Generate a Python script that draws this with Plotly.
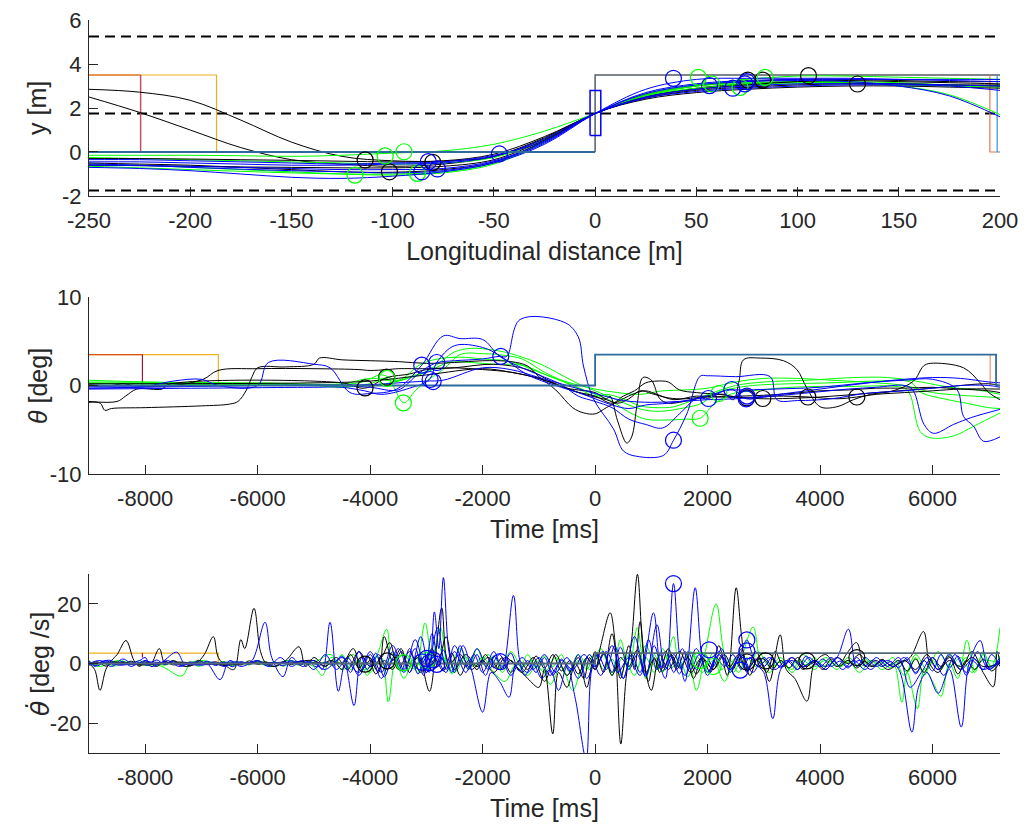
import plotly.graph_objects as go

# ---------------- Panel 1 data: lateral position vs longitudinal distance ----------------
dist_grid = [-250, -225, -200, -175, -150, -125, -100, -75, -50, -25, 0, 25, 50, 75, 100, 125, 150, 175, 200]

y_black_1 = [2.85, 2.72, 2.35, 1.45, 0.45, -0.2, -0.4, -0.4, -0.1, 0.7, 1.75, 2.6, 3.0, 3.2, 3.3, 3.3, 3.25, 3.2, 3.2]
y_black_2 = [2.5, 1.8, 1.0, 0.2, -0.35, -0.55, -0.65, -0.55, -0.2, 0.65, 1.75, 2.5, 2.9, 3.1, 3.2, 3.15, 3.1, 3.05, 3.05]
y_black_3 = [-0.3, -0.3, -0.32, -0.35, -0.38, -0.42, -0.45, -0.42, -0.2, 0.6, 1.75, 2.5, 2.85, 3.05, 3.2, 3.25, 3.2, 3.15, 3.1]
y_black_4 = [-0.5, -0.55, -0.6, -0.7, -0.8, -0.9, -0.92, -0.8, -0.45, 0.5, 1.75, 2.4, 2.7, 2.85, 2.95, 3.0, 3.0, 2.95, 2.9]
y_black_5 = [-0.6, -0.62, -0.65, -0.68, -0.7, -0.72, -0.72, -0.65, -0.35, 0.55, 1.75, 2.45, 2.8, 2.95, 3.05, 3.1, 3.1, 3.05, 3.0]
y_green_1 = [-0.15, -0.15, -0.15, -0.17, -0.2, -0.15, -0.05, 0.05, 0.35, 0.95, 1.75, 2.55, 3.0, 3.3, 3.45, 3.45, 3.4, 3.35, 3.3]
y_green_2 = [-0.55, -0.6, -0.7, -0.8, -0.9, -1.0, -1.05, -0.95, -0.55, 0.45, 1.75, 2.65, 3.05, 3.15, 3.2, 3.2, 3.15, 3.05, 3.0]
y_green_3 = [-0.65, -0.72, -0.8, -0.88, -0.95, -1.0, -1.0, -0.9, -0.5, 0.5, 1.75, 2.6, 3.0, 3.1, 3.15, 3.15, 3.0, 2.6, 1.7]
y_green_4 = [-0.25, -0.3, -0.35, -0.4, -0.45, -0.5, -0.55, -0.5, -0.25, 0.55, 1.75, 2.55, 2.9, 3.05, 3.1, 3.1, 3.05, 3.0, 2.95]
y_blue_1 = [-0.7, -0.75, -0.85, -1.0, -1.15, -1.2, -1.1, -0.9, -0.5, 0.35, 1.75, 2.85, 3.3, 3.35, 3.35, 3.35, 3.3, 3.25, 3.2]
y_blue_2 = [-0.35, -0.35, -0.4, -0.45, -0.5, -0.55, -0.5, -0.45, -0.15, 0.5, 1.75, 2.5, 2.85, 3.0, 3.1, 3.1, 3.1, 3.05, 3.0]
y_blue_3 = [-0.55, -0.6, -0.7, -0.78, -0.85, -0.9, -0.95, -0.85, -0.45, 0.4, 1.75, 2.65, 3.05, 3.2, 3.25, 3.2, 3.0, 2.55, 1.6]
y_blue_4 = [-0.45, -0.45, -0.5, -0.55, -0.6, -0.6, -0.55, -0.5, -0.2, 0.6, 1.75, 2.45, 2.75, 2.9, 3.0, 3.05, 3.05, 3.0, 2.8]
y_blue_5 = [-0.6, -0.62, -0.65, -0.7, -0.75, -0.8, -0.8, -0.75, -0.4, 0.45, 1.75, 2.7, 3.1, 3.25, 3.3, 3.3, 3.3, 3.3, 3.3]

lane_lines = [5.25, 1.75, -1.75]
dist_range = [-250, 200]
dist_ticks = [-250, -200, -150, -100, -50, 0, 50, 100, 150, 200]
dist_ticktext = ["-250", "-200", "-150", "-100", "-50", "0", "50", "100", "150", "200"]
y1_ticks = [-2, 0, 2, 4, 6]
y1_ticktext = ["-2", "0", "2", "4", "6"]

# event circles (x, y)
p1_circ_black = [(-113.6, -0.36), (-101.6, -0.9), (-80.2, -0.47), (75.4, 3.27), (82.8, 3.27), (105.4, 3.47), (129.6, 3.09)]
p1_circ_green = [(-118.6, -1.05), (-103.7, -0.18), (-94.4, 0.01), (-87.8, -0.97), (51.0, 3.39), (57.5, 3.1), (71.6, 2.94), (84.0, 3.39)]
p1_circ_blue = [(-85.6, -0.9), (-82.4, -0.44), (-77.9, -0.77), (-47.3, -0.09), (38.7, 3.35), (56.5, 3.02), (68.0, 2.9), (74.9, 3.2), (74.0, 3.1)]

# reference markers (steps) panel 1
p1_step_gray = [(0, 0), (0, 3.5), (200, 3.5)]
p1_step_blue = [(-250, 0), (0, 0)]
p1_step_blue_r = [(198.6, 3.5), (198.6, 0), (200, 0)]
p1_step_orange = [(195, 3.5), (195, 0), (198.6, 0)]
p1_step_orange_l = [(-250, 3.5), (-224.5, 3.5)]
p1_step_yellow = [(-250, 3.5), (-187, 3.5), (-187, 0)]
p1_step_red = [(-224.5, 3.5), (-224.5, 0)]
p1_box = [(-2.5, 0.75), (2.8, 0.75), (2.8, 2.8), (-2.5, 2.8), (-2.5, 0.75)]

# ---------------- Panel 2 data: heading angle vs time ----------------
th_black_1 = [(-9000, 0.1), (-8600, 0.0), (-8400, 0.2), (-8200, 0.0), (-7500, 0.0), (-6970, 0.7), (-6706, 1.7), (-6000, 1.9),
              (-5000, 1.9), (-4200, 1.8), (-4000, 1.7), (-3700, 1.8), (-3500, 1.9), (-3000, 1.9), (-2500, 2.0), (-2000, 1.8),
              (-1500, 1.5), (-1000, 0.8), (-500, -0.3), (-200, -1.0), (0, -1.3), (200, -1.6), (400, -2.0), (600, -1.5),
              (800, -0.6), (1000, -0.9), (1300, -1.4), (1600, -1.5), (2000, -1.2), (2300, -1.0), (2460, -1.6), (2560, 0.5),
              (2638, 2.9), (2935, 3.1), (3350, 2.8), (3588, 1.8), (3766, -0.3), (4002, -2.4), (4300, -2.4), (4595, -1.6),
              (4900, -1.0), (5300, -0.6), (5662, 0.5), (5840, 2.2), (5959, 2.5), (6552, 2.0), (6848, 0.3), (7000, -0.8), (7200, -1.6)]
th_black_2 = [(-9000, -1.9), (-8800, -2.0), (-8720, -2.8), (-8600, -2.6), (-8000, -2.5), (-7000, -2.3), (-6500, -2.1),
              (-6350, -1.8), (-6200, -0.5), (-6100, 1.0), (-6000, 2.0), (-5500, 2.1), (-5000, 2.4), (-4900, 3.1), (-4500, 2.9),
              (-4000, 2.8), (-3500, 2.7), (-3000, 2.5), (-2500, 2.6), (-2000, 2.8), (-1500, 2.7), (-1200, 2.2), (-1000, 1.0),
              (-700, -0.5), (-400, -2.5), (-200, -3.1), (0, -3.2), (200, -2.5), (350, -2.0), (500, -1.5), (700, -0.9),
              (900, -0.6), (1100, -1.0), (1400, -1.6), (1800, -1.2), (2200, -1.3), (2600, -1.2), (3000, -1.1), (3500, -0.9),
              (4000, -0.6), (4500, -0.5), (5000, -0.3), (5500, -0.3), (6000, -0.2), (6500, -0.4), (7000, -0.6), (7200, -0.8)]
th_black_3 = [(-9000, -1.8), (-8500, -1.8), (-8350, -1.2), (-8150, -0.4), (-7700, -0.4), (-7600, 0.1), (-4500, 0.3),
              (-4100, -0.3), (-3700, 0.9), (-3300, 1.3), (-3000, 1.8), (-2500, 2.0), (-1800, 2.4), (-1200, 1.8), (-800, 0.5),
              (-400, -0.6), (0, -1.2), (300, -2.0), (500, -1.2), (700, -0.6), (900, 0.3), (1100, 0.5), (1300, 0.4),
              (1500, -0.5), (1800, -0.8), (2200, -1.0), (2700, -1.4), (3200, -1.2), (3800, -1.3), (4300, -1.5), (4650, -1.3),
              (5000, -1.0), (5500, -0.8), (6000, -0.6), (6500, -0.4), (7200, -0.4)]
th_black_4 = [(-9000, 0.2), (-5000, 0.3), (-4000, 0.5), (-3000, 1.2), (-2000, 1.9), (-1500, 1.5), (-1000, 0.8), (-500, -0.3),
              (0, -0.8), (200, -1.5), (267, -1.2), (400, -4.0), (563, -6.5), (650, -5.8), (750, -2.0), (850, 0.9), (1000, 0.6),
              (1150, -1.5), (1300, -2.0), (1500, -1.9), (2000, -1.3), (2700, -1.4), (3000, -1.5), (4000, -1.3), (5000, -0.8),
              (6000, -0.3), (7000, 0.2), (7200, 0.0)]
th_green_1 = [(-9000, 0.6), (-8000, 0.4), (-6000, 0.2), (-4500, 0.2), (-4000, 0.8), (-3500, 0.5), (-3300, 1.0), (-3000, 1.6),
              (-2700, 2.9), (-2500, 3.8), (-2200, 4.2), (-1800, 4.0), (-1500, 3.6), (-1000, 2.5), (-600, 1.2), (-300, 0.2),
              (0, -0.6), (300, -1.4), (600, -2.2), (900, -2.8), (1200, -2.9), (1600, -2.5), (1900, -2.0), (2100, -1.0),
              (2400, -0.4), (2800, 0.0), (3500, 0.2), (4200, 0.3), (5000, 0.5), (5600, 0.4), (5800, -0.8), (6200, -1.5),
              (6600, -2.0), (7000, -2.5), (7200, -2.6)]
th_green_2 = [(-9000, 0.3), (-7000, 0.1), (-5000, 0.0), (-4500, -0.2), (-4000, 0.2), (-3700, 0.8), (-3400, -1.96), (-3200, -0.6),
              (-3000, 0.5), (-2700, 1.8), (-2400, 3.5), (-2000, 3.6), (-1600, 3.4), (-1300, 3.0), (-900, 1.5), (-500, 0.3),
              (-200, -0.5), (0, -1.0), (300, -1.8), (600, -3.0), (900, -3.8), (1300, -3.9), (1600, -3.8), (1868, -3.7),
              (2100, -2.2), (2400, -1.0), (2800, -0.6), (3500, -0.2), (4500, -0.1), (5500, -0.3), (5600, -1.0), (5781, -5.2),
              (5959, -5.9), (6374, -5.7), (6730, -4.6), (7200, -3.1)]
th_green_3 = [(-9000, 0.4), (-6000, 0.3), (-4200, 0.3), (-3800, 1.2), (-3500, 0.6), (-3100, 2.4), (-2800, 3.0), (-2400, 3.2),
              (-2000, 3.0), (-1500, 2.7), (-1000, 1.5), (-500, 0.4), (0, -0.4), (400, -0.8), (800, -1.0), (1200, -0.6),
              (1600, -0.5), (2000, -0.3), (2500, 0.4), (3000, 0.8), (3600, 0.8), (4200, 0.6), (5000, 0.3), (5500, 0.0),
              (6000, -0.8), (6500, -1.1), (7000, -1.3), (7200, -1.4)]
th_green_4 = [(-9000, 0.2), (-6000, 0.1), (-4000, 0.0), (-3500, 0.5), (-3000, 1.5), (-2600, 2.6), (-2200, 2.6), (-1800, 2.4),
              (-1300, 2.3), (-800, 1.0), (-400, 0.0), (0, -1.2), (200, -1.0), (500, -1.5), (800, -2.3), (1100, -2.5),
              (1400, -2.4), (1800, -1.5), (2100, -0.8), (2500, 0.0), (3000, 0.4), (3800, 0.6), (4600, 0.9), (5200, 0.9),
              (5800, 0.4), (6300, -0.2), (6800, -0.5), (7200, -1.0)]
th_blue_1 = [(-9000, -0.3), (-8000, -0.2), (-6000, 0.0), (-4500, 0.0), (-4000, -0.2), (-3500, -0.5), (-3200, 1.0), (-3000, 2.0),
             (-2800, 2.6), (-2500, 2.8), (-2000, 3.0), (-1700, 3.3), (-1571, 3.3), (-1334, 7.46), (-534, 7.1), (-300, 5.5),
             (-207, 2.2), (-30, -1.5), (326, -4.9), (504, -7.4), (741, -8.0), (1215, -7.9), (1393, -6.2), (1631, -3.2),
             (1868, 1.05), (2000, 1.1), (2500, 1.0), (3113, 1.0), (3232, -1.6), (3600, -1.7), (4200, -1.5), (4800, -0.9),
             (5500, -0.6), (6000, -0.3), (6500, 0.0), (7000, 0.0), (7200, -0.2)]
th_blue_2 = [(-9000, -0.3), (-8000, -0.1), (-7500, 0.5), (-7000, 0.7), (-6700, 0.0), (-6000, 0.0), (-5810, 2.6), (-5000, 2.4),
             (-4714, 2.0), (-4358, -0.8), (-4000, -0.9), (-3527, -0.4), (-3083, 2.3), (-2700, 5.6), (-2400, 5.3), (-2000, 5.2),
             (-1700, 3.3), (-1300, 2.0), (-1000, 1.2), (-600, 0.1), (-300, -1.2), (0, -1.8), (300, -2.5), (600, -3.8),
             (900, -4.4), (1200, -4.8), (1500, -3.2), (1800, -1.5), (2016, -1.47), (2300, -0.6), (2700, -0.5), (3200, -0.4),
             (4000, -0.2), (4800, 0.3), (5500, 0.6), (6000, 0.7), (6433, -0.45), (6552, -3.5), (6730, -4.6), (6907, -6.3),
             (7200, -5.8)]
th_blue_3 = [(-9000, -0.4), (-7000, -0.3), (-5000, -0.2), (-4500, -0.2), (-4100, -0.6), (-3800, -1.0), (-3300, -0.3),
             (-2947, 0.68), (-2816, 2.6), (-2500, 4.5), (-2000, 4.3), (-1678, 3.3), (-1200, 1.2), (-700, 0.0), (-300, -0.8),
             (0, -1.5), (300, -2.2), (600, -2.6), (900, -2.2), (1300, -2.0), (1700, -1.6), (2100, -1.0), (2431, -0.45),
             (2686, -1.5), (3000, -1.3), (3500, -1.0), (4000, -0.7), (4500, -0.4), (5000, -0.2), (5500, 0.0), (5650, -0.5),
             (5850, -4.4), (6018, -5.4), (6374, -4.4), (6700, -3.6), (7200, -2.7)]
th_blue_4 = [(-9000, -0.1), (-6000, 0.0), (-4000, 0.1), (-3500, 0.3), (-3000, 0.5), (-2700, 0.6), (-2000, 2.0), (-1500, 1.8),
             (-1000, 0.9), (-500, 0.0), (0, -0.9), (500, -1.7), (1000, -1.9), (1500, -1.8), (2000, -1.6), (2500, -1.5),
             (3000, -1.2), (4000, -0.4), (5000, 0.4), (6000, 0.9), (6500, 0.8), (7000, 0.4), (7200, 0.3)]

p2_circ_black = [(-4091, -0.27), (-3706, 0.94), (2698, -1.4), (2983, -1.47), (3783, -1.3), (4654, -1.3)]
p2_circ_green = [(-3700, 0.8), (-3410, -1.96), (1868, -3.7), (2200, -0.9)]
p2_circ_blue = [(-3083, 2.3), (-2935, 0.68), (-2880, 0.45), (-2816, 2.6), (-1678, 3.3), (1393, -6.18), (2016, -1.47),
                (2431, -0.45), (2686, -1.5), (2700, -1.2)]

time_range = [-9000, 7200]
time_ticks = [-8000, -6000, -4000, -2000, 0, 2000, 4000, 6000]
time_ticktext = ["-8000", "-6000", "-4000", "-2000", "0", "2000", "4000", "6000"]
y2_ticks = [-10, 0, 10]
y2_ticktext = ["-10", "0", "10"]
p2_step_main = [(-9000, 0), (0, 0), (0, 3.5), (7130, 3.5), (7130, 0), (7200, 0)]
p2_step_orange_r = [(7025, 3.5), (7025, 0)]
p2_step_yellow = [(-9000, 3.5), (-6700, 3.5), (-6700, 0)]
p2_step_orange_l = [(-9000, 3.5), (-8050, 3.5)]
p2_step_red = [(-8050, 3.5), (-8050, 0)]

# ---------------- Panel 3 data: heading rate vs time ----------------
rate_black_1 = [(-9000, 0), (-8900, -2), (-8805, -9), (-8700, -2), (-8600, 1), (-8500, 3), (-8342, 7.7), (-8200, 1), (-8100, -1),
                (-8000, 1), (-7900, 0), (-7750, 5), (-7650, 0), (-7500, 1), (-7300, -1), (-7100, 0), (-6950, 3), (-6789, 9),
                (-6700, 2), (-6550, -1), (-6420, -2), (-6300, 8), (-6230, 5), (-6066, 18.5), (-5950, 4), (-5850, 0), (-5700, -1),
                (-5500, 1), (-5265, 5.6), (-5150, -1), (-5000, 2), (-4850, 0), (-4700, 1), (-4500, 0), (-4300, 5), (-4150, -2),
                (-4000, 1), (-3850, -3), (-3750, 9), (-3600, 1), (-3450, 5), (-3300, -3), (-3150, 3), (-2947, -9.3), (-2850, 1),
                (-2727, 18.6), (-2600, 0), (-2400, 3), (-2200, -2), (-2000, 1), (-1800, -3), (-1600, 2), (-1400, -1), (-1200, -5),
                (-1000, -8), (-900, -2), (-753, -23.6), (-650, -3), (-500, -8), (-350, 0), (-200, -5), (-100, 2), (0, -2),
                (100, 6), (267, 17), (350, 8), (457, -27), (550, -5), (650, 8), (753, 29.9), (850, 5), (950, -6), (1050, 2),
                (1150, -3), (1300, 5), (1450, -2), (1600, 4), (1750, -5), (1900, 2), (2050, -3), (2200, 6), (2350, -4),
                (2508, 25.4), (2600, 10), (2700, -3), (2850, 4), (3000, -1), (3100, -6), (3290, 9.6), (3400, -2), (3550, -5),
                (3766, -12.6), (3900, 0), (4100, 3), (4300, -1), (4500, 4), (4650, 7), (4800, -1), (5000, 1), (5200, -2),
                (5400, 0), (5600, 2), (5840, 10.7), (5950, 0), (6100, -3), (6300, 2), (6500, -2), (6700, 4), (6900, -3),
                (7080, -7.8), (7150, 4), (7200, 0)]
rate_black_2 = [(-9000, 0), (-8500, 0.5), (-8000, -0.5), (-7500, 0.5), (-7000, 0), (-6500, -0.5), (-6000, 0.5), (-5500, 0),
                (-5000, 1), (-4800, -1), (-4600, 2), (-4400, -2), (-4200, 4), (-4000, -1), (-3800, 2), (-3650, 7), (-3500, -2),
                (-3300, 4), (-3100, -3), (-2900, 5), (-2800, -1), (-2650, 9), (-2500, -2), (-2300, 3), (-2100, -1), (-1900, 2),
                (-1700, -2), (-1500, 1), (-1300, -3), (-1100, 2), (-900, -6), (-700, 3), (-500, -4), (-300, 2), (-150, -8),
                (0, 4), (150, -3), (300, 10), (450, -5), (600, 6), (700, -2), (800, 14), (900, -3), (1000, -9), (1150, 3),
                (1300, -2), (1500, 4), (1700, -3), (1900, 2), (2100, -2), (2300, 3), (2450, -2), (2600, 5), (2750, -4),
                (2900, 2), (3050, -3), (3200, 4), (3350, -1), (3500, 2), (3700, -2), (3900, 1), (4100, -2), (4300, 2),
                (4500, 0), (4700, 3), (4900, -1), (5100, 1), (5300, -1), (5500, 1), (5700, -2), (5900, 3), (6100, -2),
                (6300, 1), (6500, -1), (6700, 2), (6900, -1), (7200, 0)]
rate_green_1 = [(-9000, 0), (-8800, -1), (-8500, 1), (-8200, 0), (-8000, 0.5), (-7700, -1), (-7352, -4.2), (-7200, 0), (-7000, 1),
                (-6700, 0), (-6400, 0.5), (-6000, 0), (-5700, -1), (-5500, 1), (-5200, 0), (-5000, -1), (-4850, -4), (-4700, 2),
                (-4500, 0), (-4300, 3), (-4100, -2), (-3900, 2), (-3705, 11.5), (-3600, 0), (-3400, 3), (-3200, -2),
                (-3024, 13.6), (-2900, 2), (-2750, 12), (-2600, -2), (-2400, 5), (-2200, -1), (-2000, 2), (-1800, -3),
                (-1600, -6), (-1400, 0), (-1200, -4), (-1000, 1), (-800, -7), (-600, -1), (-400, -9), (-250, -2), (-100, 3),
                (0, -1), (150, 3), (300, -4), (450, 8), (600, -2), (750, 12), (900, -5), (1050, 3), (1200, -3), (1393, 9),
                (1500, -1), (1650, 2), (1800, -9), (1950, 3), (2152, 20), (2300, 3), (2450, -3), (2600, 2), (2810, 12.2),
                (2950, 0), (3100, -3), (3300, 1), (3500, -2), (3700, 3), (3900, -1), (4100, 1), (4300, -2), (4500, 2),
                (4700, -1), (4900, 1), (5100, -2), (5300, 0), (5455, -13), (5550, -3), (5733, -15.1), (5850, -2), (6000, -6),
                (6150, -11), (6300, 0), (6450, -5), (6611, 7.8), (6750, -2), (6900, 3), (7050, -1), (7200, 12)]
rate_green_2 = [(-9000, -0.5), (-8500, 0.5), (-8000, -0.5), (-7500, 0), (-7000, 0.5), (-6500, -0.5), (-6000, 0.5), (-5500, 0),
                (-5000, 0.5), (-4700, 3), (-4500, -2), (-4200, 1), (-4000, -3), (-3800, 2), (-3676, -12.9), (-3550, 1),
                (-3400, -5), (-3200, 2), (-3000, -2), (-2800, 6), (-2650, 0), (-2500, -3), (-2300, 2), (-2100, -1), (-1900, 3),
                (-1700, -2), (-1500, 4), (-1300, -1), (-1100, 1), (-900, -3), (-700, 2), (-500, -4), (-300, 3), (-100, -2),
                (100, 5), (300, -3), (500, 2), (700, -4), (900, 6), (1100, -2), (1300, 3), (1500, -1), (1700, 4), (1900, -3),
                (2100, 1), (2300, -6), (2500, 2), (2700, -2), (2900, 4), (3100, -1), (3300, 2), (3500, -3), (3700, 1),
                (3900, -2), (4100, 2), (4300, -1), (4500, 1), (4700, -3), (4900, 1), (5100, -1), (5300, 2), (5500, -4),
                (5700, 3), (5900, -2), (6100, 4), (6300, -1), (6500, 2), (6700, -3), (6900, 1), (7200, 0)]
rate_blue_1 = [(-9000, 1), (-8900, -1), (-8800, 0.5), (-8600, 1), (-8500, -0.5), (-8300, 0), (-8100, 1), (-8000, 2), (-7900, -1),
               (-7700, 0.5), (-7440, 3.8), (-7300, 0), (-7100, 0.5), (-6900, 0), (-6670, -5.4), (-6500, 1), (-6300, -1),
               (-6100, 1), (-5870, 13.8), (-5750, 2), (-5550, -4.4), (-5400, 2), (-5200, -1), (-5000, 1), (-4850, -2),
               (-4714, 13.8), (-4566, -9.3), (-4450, 0), (-4287, -14.1), (-4150, 2), (-4000, -1), (-3850, 3), (-3700, -2),
               (-3500, 5), (-3300, -3), (-3100, 9), (-2950, -3), (-2858, 17.3), (-2780, 5), (-2698, 28.8), (-2600, 4),
               (-2500, -3), (-2350, 6), (-2200, -2), (-2000, -16.3), (-1850, -3), (-1700, -6), (-1530, -11.3), (-1400, 0),
               (-1200, -3), (-1000, 2), (-800, -4), (-600, 1), (-400, -2), (-200, 3), (0, -1), (200, 4), (400, -3), (600, 2),
               (800, -4), (1037, 17), (1150, 0), (1250, -5), (1393, 26.8), (1500, 3), (1600, -6), (1779, 25.4), (1900, 2),
               (2000, -4), (2200, 3), (2400, -2), (2600, 4), (2698, 7.9), (2850, 0), (3000, -3), (3160, -18.5), (3300, -2),
               (3500, 2), (3700, -1), (3900, 1), (4100, -1), (4300, 2), (4505, 11.5), (4650, -1), (4800, 2), (5000, -1),
               (5200, 1), (5400, -2), (5633, -23), (5750, -8), (5900, -3), (6100, -10), (6300, -2), (6510, -21.3), (6650, 0),
               (6848, 7.7), (7000, -2), (7200, 2)]
rate_blue_2 = [(-9000, -0.5), (-8700, 0.5), (-8400, -0.5), (-8000, 0.5), (-7500, 0), (-7000, -0.5), (-6500, 0.5), (-6000, 0),
               (-5500, 0.5), (-5000, 0), (-4800, -2), (-4500, 2), (-4200, -3), (-4000, 4), (-3800, -3), (-3600, 6), (-3400, -2),
               (-3200, 5), (-3050, -4), (-2900, 10), (-2800, 2), (-2650, -3), (-2500, 6), (-2300, -1), (-2150, 3), (-2000, -3),
               (-1800, 4), (-1650, -2), (-1453, 22.8), (-1350, 2), (-1250, -4), (-1100, 0), (-950, -5), (-800, -2), (-650, -9),
               (-500, -1), (-350, -12), (-160, -32), (-60, -2), (50, 3), (200, -2), (350, 6), (500, -5), (650, 3), (800, -3),
               (950, 8), (1100, -2), (1250, 4), (1400, -3), (1550, 5), (1700, -2), (1850, 3), (2000, -3), (2150, 2), (2300, -1),
               (2450, 3), (2600, -2), (2750, 2), (2900, -1), (3100, 2), (3300, -1), (3500, 1), (3700, -1), (3900, 1), (4100, -2),
               (4300, 2), (4500, -1), (4700, 1), (4900, -2), (5100, 1), (5300, -1), (5500, 2), (5700, -3), (5900, 2), (6100, -2),
               (6300, 3), (6500, -2), (6700, 1), (6900, -2), (7200, 1)]
rate_blue_3 = [(-9000, 0), (-8800, 1), (-8600, -1), (-8400, 1.5), (-8200, -0.5), (-8000, 1), (-7800, -0.5), (-7600, 1), (-7400, -1),
               (-7200, 0.5), (-7000, -0.5), (-6800, 0.5), (-6600, -1), (-6400, 0.5), (-6200, 0), (-6000, 1), (-5800, -1),
               (-5600, 2), (-5400, -1), (-5200, 1), (-5000, -2), (-4800, 3), (-4600, -2), (-4400, 2), (-4200, -4), (-4000, 3),
               (-3800, -5), (-3600, 4), (-3400, -3), (-3200, 8), (-3000, -3), (-2800, 12), (-2650, -2), (-2500, 4), (-2300, -3),
               (-2100, 5), (-1900, -2), (-1700, 3), (-1500, -4), (-1300, 2), (-1100, -2), (-900, 3), (-700, -3), (-500, 2),
               (-300, -5), (-100, 3), (100, -4), (300, 6), (500, -5), (700, 9), (900, -4), (1100, 13), (1250, -2), (1400, 3),
               (1600, -4), (1800, 5), (2000, -3), (2200, 4), (2400, -2), (2600, 3), (2800, -3), (3000, 2), (3200, -2), (3400, 1),
               (3600, -2), (3800, 2), (4000, -1), (4200, 2), (4400, -2), (4600, 1), (4800, -2), (5000, 2), (5200, -1), (5400, 2),
               (5600, -8), (5800, -3), (6000, 2), (6200, -4), (6400, 3), (6600, -3), (6800, 4), (7000, -2), (7200, 1)]

# dense low-level jitter traces sampled every 150 ms from -9000 to 7200 ms
jitter_time = list(range(-9000, 7201, 150))
jitter_blue = [0.5, -0.8, 1.0, -0.5, 0.7, -1.0, 0.4, -0.6, 1.2, -0.4, 0.6, -0.9, 0.3, -0.5, 0.8, -0.7, 0.5, -1.1, 0.6, -0.3,
               0.9, -0.6, 0.4, -0.8, 1.0, -0.5, 0.7, -1.2, 0.5, -0.4,
               2.5, -3.0, 4.0, -2.0, 3.5, -4.5, 1.5, -2.5, 5.0, -3.5, 2.0, -1.5, 4.5, -3.0, 6.0, -2.0, 3.0, -4.0, 2.5, -1.0,
               3.5, -2.5, 1.0, -3.0,
               2.0, -4.0, 1.5, -2.5, 3.0, -5.0,
               1.0, 4.0, -3.0, 5.5, -2.0, 3.0, -4.5, 6.0, -1.5, 2.5, -3.5, 4.0, -2.0, 3.0, -1.0, 5.0, -3.0, 2.0, -2.5, 1.5,
               -1.0, 2.0, -1.5, 1.0, -2.0, 2.5, -0.5, 1.5, -1.0, 0.8, -1.5, 2.0, -0.7, 1.2, -1.0, 0.6, -1.3,
               2.0, -3.5, 1.0, -2.5, 3.0, -1.5, 2.5, -4.0, 1.5, -2.0, 3.0, -1.0]
jitter_black = [-0.4, 0.6, -0.9, 0.5, -0.3, 0.8, -0.6, 0.4, -1.0, 0.7, -0.5, 0.3, -0.8, 1.1, -0.4, 0.6, -0.7, 0.2, -0.5, 0.9,
                -0.3, 0.5, -1.0, 0.6, -0.4, 0.8, -0.2, 0.5, -0.9, 0.6,
                -2.0, 3.0, -1.5, 2.5, -3.5, 1.0, -2.0, 4.0, -1.0, 2.0, -3.0, 1.5, -2.5, 3.5, -4.0, 1.0, -2.0, 3.0, -1.5, 2.0,
                -3.0, 1.0, -2.0, 2.5,
                -1.5, 3.0, -2.5, 1.0, -3.5, 2.0,
                -2.0, 3.5, -4.0, 2.0, -1.0, 4.5, -3.0, 1.5, -2.5, 3.0, -1.5, 2.0, -3.5, 1.0, -2.0, 2.5, -1.0, 3.0, -2.0, 1.0,
                1.5, -2.0, 1.0, -1.5, 2.0, -1.0, 0.5, -2.0, 1.5, -0.8, 1.0, -1.5, 0.6, -1.0, 1.4, -0.5, 1.0,
                -2.5, 1.5, -3.0, 2.0, -1.0, 2.5, -3.5, 1.0, -2.0, 1.5, -2.5, 0.5]
jitter_green = [0.8, -0.5, 0.3, -0.9, 0.6, -0.4, 1.0, -0.7, 0.2, -0.6, 0.9, -0.3, 0.5, -1.0, 0.4, -0.2, 0.7, -0.8, 0.3, -0.5,
                1.1, -0.4, 0.6, -0.9, 0.2, -0.6, 0.8, -0.3, 0.5, -0.7,
                3.0, -2.0, 1.0, -4.0, 2.5, -1.5, 3.5, -2.5, 1.0, -3.0, 4.0, -1.0, 2.0, -3.5, 1.5, -2.0, 5.0, -1.0, 2.5, -3.0,
                1.0, -2.0, 3.0, -1.5,
                2.5, -1.0, 3.0, -3.0, 1.0, -2.0,
                3.0, -2.0, 1.5, -4.0, 3.0, -1.0, 2.0, -3.0, 5.0, -1.5, 1.0, -4.5, 2.5, -1.0, 3.5, -2.0, 1.0, -3.0, 2.0, -1.0,
                2.0, -1.0, 0.5, -1.5, 1.0, -0.5, 2.0, -1.0, 0.8, -1.2, 0.5, -0.8, 1.5, -1.0, 0.5, -1.5, 1.0,
                -3.0, 2.0, -4.0, 1.0, -2.0, 3.5, -1.0, 2.0, -3.0, 4.0, -1.5, 2.5]

p3_circ_black = [(-4091, -0.2), (-3700, 0.9), (2698, 0.5), (3032, 0.9), (3766, 0.9), (4654, 2.0)]
p3_circ_green = [(-3400, 0.3), (-3000, 1.0), (1868, 1.0), (2100, -1.0)]
p3_circ_blue = [(-3083, 0.5), (-2994, 1.7), (-2947, 0.3), (-2880, 1.2), (-2816, -0.3), (-1690, 0.6), (1393, 26.8),
                (2028, 4.6), (2580, -2.2), (2698, 7.9), (2698, 4.2)]

y3_ticks = [-20, 0, 20]
y3_ticktext = ["-20", "0", "20"]
p3_step_main = [(-9000, 0), (0, 0), (0, 3.5), (7200, 3.5)]
p3_step_yellow = [(-9000, 3.5), (-6700, 3.5), (-6700, 0)]
p3_step_red = [(-8050, 3.5), (-8050, 2.0)]

# ---------------- Styling ----------------
BLACK, GREEN, BLUE = "#000000", "#00FF00", "#0000FF"
AX = "#262626"
FONT = "Liberation Sans, Arial, Helvetica, sans-serif"

fig = go.Figure()


def add_line(pts_x, pts_y, color, axis, width=1.0, shape="linear", dash=None):
    xa, ya = axis
    fig.add_trace(go.Scatter(x=pts_x, y=pts_y, mode="lines", xaxis=xa, yaxis=ya,
                             line=dict(color=color, width=width, shape=shape, dash=dash),
                             hoverinfo="skip", showlegend=False))


def add_pairs(pairs, color, axis, width=1.0, shape="linear"):
    add_line([p[0] for p in pairs], [p[1] for p in pairs], color, axis, width, shape)


def add_circles(pairs, color, axis, size=16):
    xa, ya = axis
    fig.add_trace(go.Scatter(x=[p[0] for p in pairs], y=[p[1] for p in pairs], mode="markers", xaxis=xa, yaxis=ya,
                             marker=dict(symbol="circle-open", size=size, color=color, line=dict(width=1.2, color=color)),
                             hoverinfo="skip", showlegend=False))


A1, A2, A3 = ("x", "y"), ("x2", "y2"), ("x3", "y3")

# Panel 1
for lv in lane_lines:
    add_line(dist_range, [lv, lv], BLACK, A1, width=2, dash="10px,6px")
add_pairs(p1_step_yellow, "#EDB120", A1, 1.2)
add_pairs(p1_step_orange_l, "#D95319", A1, 1.2)
add_pairs(p1_step_red, "#C2506A", A1, 1.5)
add_pairs(p1_step_gray, "#555E66", A1, 1.5)
add_pairs(p1_step_orange, "#E8764A", A1, 1.2)
add_pairs(p1_step_blue_r, "#3A8FD0", A1, 1.2)
traj = [(y_black_1, BLACK), (y_black_2, BLACK), (y_green_1, GREEN), (y_green_2, GREEN), (y_green_3, GREEN),
        (y_green_4, GREEN), (y_black_3, BLACK), (y_black_4, BLACK), (y_black_5, BLACK),
        (y_blue_1, BLUE), (y_blue_2, BLUE), (y_blue_3, BLUE), (y_blue_4, BLUE), (y_blue_5, BLUE)]
for vals, col in traj:
    add_line(dist_grid, vals, col, A1, 1.0, "spline")
add_pairs(p1_step_blue, "#2E6A9C", A1, 1.8)
add_pairs(p1_box, BLUE, A1, 1.5)
add_circles(p1_circ_black, BLACK, A1)
add_circles(p1_circ_green, GREEN, A1)
add_circles(p1_circ_blue, BLUE, A1)

# Panel 2
add_pairs(p2_step_yellow, "#EDB120", A2, 1.2)
add_pairs(p2_step_orange_l, "#D95319", A2, 1.2)
add_pairs(p2_step_red, "#A2142F", A2, 1.2)
add_pairs(p2_step_orange_r, "#E8976E", A2, 1.2)
for pairs, col in [(th_green_1, GREEN), (th_green_2, GREEN), (th_green_3, GREEN), (th_green_4, GREEN),
                   (th_black_1, BLACK), (th_black_2, BLACK), (th_black_3, BLACK), (th_black_4, BLACK),
                   (th_blue_1, BLUE), (th_blue_2, BLUE), (th_blue_3, BLUE), (th_blue_4, BLUE)]:
    add_pairs(pairs, col, A2, 1.0, "spline")
add_pairs(p2_step_main, "#2E6A9C", A2, 1.8)
add_circles(p2_circ_black, BLACK, A2)
add_circles(p2_circ_green, GREEN, A2)
add_circles(p2_circ_blue, BLUE, A2)

# Panel 3
add_pairs(p3_step_yellow, "#EDB120", A3, 1.2)
add_pairs(p3_step_red, "#A2142F", A3, 1.2)
add_line(jitter_time, jitter_green, GREEN, A3, 1.0, "spline")
for pairs, col in [(rate_green_1, GREEN), (rate_green_2, GREEN), (rate_black_1, BLACK), (rate_black_2, BLACK)]:
    add_pairs(pairs, col, A3, 1.0, "spline")
add_line(jitter_black, jitter_black, BLACK, A3, 0) if False else add_line(jitter_time, jitter_black, BLACK, A3, 1.0, "spline")
for pairs, col in [(rate_blue_3, BLUE), (rate_blue_1, BLUE), (rate_blue_2, BLUE)]:
    add_pairs(pairs, col, A3, 1.0, "spline")
add_line(jitter_time, jitter_blue, BLUE, A3, 1.0, "spline")
add_pairs(p3_step_main, "#55677A", A3, 1.8)
add_circles(p3_circ_black, BLACK, A3)
add_circles(p3_circ_green, GREEN, A3)
add_circles(p3_circ_blue, BLUE, A3)

axis_common = dict(showline=True, linecolor=AX, linewidth=1, mirror=False, showgrid=False, zeroline=False,
                   ticks="inside", ticklen=9, tickwidth=1, tickcolor=AX, automargin=False,
                   tickfont=dict(family=FONT, size=22, color=AX))
title_font = dict(family=FONT, size=25, color=AX)

fig.update_layout(
    width=1024, height=825,
    margin=dict(l=89, r=24, t=20, b=72),
    paper_bgcolor="white", plot_bgcolor="white",
    xaxis=dict(axis_common, domain=[0, 1], range=dist_range, anchor="y", tickmode="array",
               tickvals=dist_ticks, ticktext=dist_ticktext, ticklabelstandoff=5,
               title=dict(text="Longitudinal distance [m]", font=title_font, standoff=10)),
    yaxis=dict(axis_common, domain=[0.7599, 1.0], range=[-2, 6], anchor="x", tickmode="array",
               tickvals=y1_ticks, ticktext=y1_ticktext, ticklabelstandoff=2),
    xaxis2=dict(axis_common, domain=[0, 1], range=time_range, anchor="y2", tickmode="array",
                tickvals=time_ticks, ticktext=time_ticktext, ticklabelstandoff=5,
                title=dict(text="Time [ms]", font=title_font, standoff=10)),
    yaxis2=dict(axis_common, domain=[0.3806, 0.6221], range=[-10, 10], anchor="x2", tickmode="array",
                tickvals=y2_ticks, ticktext=y2_ticktext, ticklabelstandoff=2),
    xaxis3=dict(axis_common, domain=[0, 1], range=time_range, anchor="y3", tickmode="array",
                tickvals=time_ticks, ticktext=time_ticktext, ticklabelstandoff=5,
                title=dict(text="Time [ms]", font=title_font, standoff=10)),
    yaxis3=dict(axis_common, domain=[0, 0.2442], range=[-30, 30], anchor="x3", tickmode="array",
                tickvals=y3_ticks, ticktext=y3_ticktext, ticklabelstandoff=2),
)

# y-axis titles placed at fixed positions (paper coordinates derived from pixel positions)
PLOT_L, PLOT_W, PLOT_B, PLOT_H = 89, 911, 753, 733
ytitles = [("y [m]", 37, 108),
           ("<i>θ</i> [deg]", 38, 386),
           ("<span style=\"font-family:'DejaVu Sans'\"><i>θ\u0307</i></span> [deg /s]", 40, 664)]
for txt, px, py in ytitles:
    fig.add_annotation(text=txt, xref="paper", yref="paper",
                       x=(px - PLOT_L) / PLOT_W, y=(PLOT_B - py) / PLOT_H,
                       xanchor="center", yanchor="middle", textangle=-90, showarrow=False,
                       font=title_font)

fig.write_html("out.html")
